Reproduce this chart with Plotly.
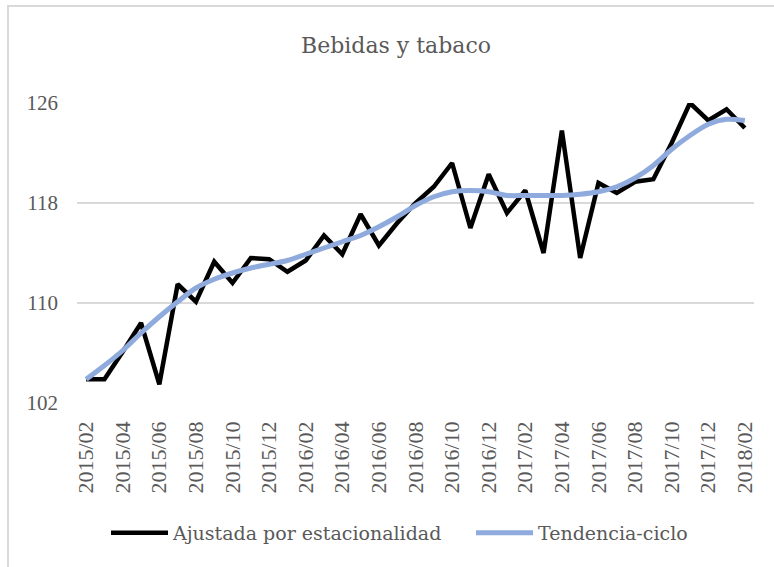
import plotly.graph_objects as go

# monthly periods 2015/02 .. 2018/02
meses = ["2015/02", "2015/03", "2015/04", "2015/05", "2015/06", "2015/07", "2015/08",
         "2015/09", "2015/10", "2015/11", "2015/12", "2016/01", "2016/02", "2016/03",
         "2016/04", "2016/05", "2016/06", "2016/07", "2016/08", "2016/09", "2016/10",
         "2016/11", "2016/12", "2017/01", "2017/02", "2017/03", "2017/04", "2017/05",
         "2017/06", "2017/07", "2017/08", "2017/09", "2017/10", "2017/11", "2017/12",
         "2018/01", "2018/02"]

ajustada = [103.9, 103.9, 106.1, 108.4, 103.5, 111.5, 110.1, 113.3, 111.6, 113.6, 113.5,
            112.5, 113.4, 115.4, 113.9, 117.1, 114.6, 116.4, 118.0, 119.3, 121.2, 116.0,
            120.3, 117.2, 119.0, 114.0, 123.8, 113.6, 119.6, 118.8, 119.7, 119.9, 122.8,
            126.0, 124.6, 125.5, 124.0]

tendencia = [103.9, 105.0, 106.2, 107.6, 108.9, 110.1, 111.2, 111.9, 112.4, 112.8, 113.1,
             113.4, 113.9, 114.4, 114.9, 115.4, 116.1, 116.9, 117.8, 118.5, 118.9, 119.0,
             118.9, 118.6, 118.6, 118.6, 118.6, 118.7, 118.9, 119.3, 120.0, 121.0, 122.3,
             123.4, 124.3, 124.7, 124.6]

y_ticks = [102, 110, 118, 126]

gris = "#595959"
f_num = "Liberation Serif"
f_txt = "DejaVu Serif"

fig = go.Figure()
fig.add_trace(go.Scatter(x=meses, y=ajustada, mode="lines", name="Ajustada por estacionalidad",
                         line=dict(color="#000000", width=4.5), legend="legend"))
fig.add_trace(go.Scatter(x=meses, y=tendencia, mode="lines", name="Tendencia-ciclo",
                         line=dict(color="#8FAADC", width=5, shape="spline", smoothing=0.8),
                         legend="legend2"))

L, R, T, B = 77, 20, 103, 164
W, H = 774, 567
pw, ph = W - L - R, H - T - B

leg_common = dict(orientation="h", xanchor="left", y=-(533 - 403) / ph, yanchor="middle",
                  font=dict(family=f_txt, size=19, color=gris), itemwidth=57,
                  bgcolor="rgba(0,0,0,0)")

fig.update_layout(
    width=W, height=H,
    margin=dict(l=L, r=R, t=T, b=B),
    paper_bgcolor="white", plot_bgcolor="white",
    font=dict(family=f_txt, size=20, color=gris),
    title=dict(text="Bebidas y tabaco", x=(396 - L) / pw, xref="paper", xanchor="center",
               y=1 - 45 / H, yanchor="middle",
               font=dict(family=f_txt, size=22, color=gris)),
    showlegend=True,
    legend=dict(x=(106 - L) / pw, **leg_common),
    legend2=dict(x=(471 - L) / pw, **leg_common),
    # light chart border (top/left visible, rest cropped)
    shapes=[dict(type="rect", xref="paper", yref="paper",
                 x0=(8 - L) / pw, x1=(W + 10 - L) / pw,
                 y0=-(H + 10 - T - ph) / ph, y1=(T + ph - 6) / ph,
                 line=dict(color="#D9D9D9", width=2), fillcolor="rgba(0,0,0,0)", layer="below")],
)

fig.update_xaxes(type="category", range=[-0.5, len(meses) - 0.5],
                 tickvals=meses[::2], ticktext=meses[::2], tickangle=-90,
                 showgrid=False, showline=False, ticks="", ticklabelstandoff=13,
                 tickfont=dict(family=f_num, size=22, color=gris))
fig.update_yaxes(range=[102, 126], tickvals=y_ticks, showgrid=True, gridcolor="#D9D9D9",
                 gridwidth=1.5, zeroline=False, showline=False, ticks="",
                 ticklabelstandoff=18, tickfont=dict(family=f_num, size=21, color=gris))

fig.write_html("out.html", config={"displayModeBar": False},
               post_script="document.body.style.margin='0px';")
